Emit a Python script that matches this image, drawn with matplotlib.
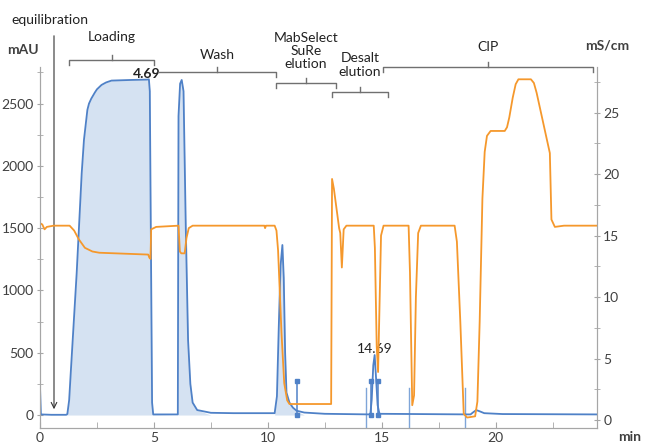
import matplotlib
matplotlib.use("Agg")
import matplotlib.pyplot as plt
from matplotlib.lines import Line2D
from matplotlib.ticker import MultipleLocator
import numpy as np

plt.rcParams['font.family'] = ['Lato', 'DejaVu Sans']

W, H = 645, 445
BLUE = "#4f81c7"
FILL = "#d5e2f2"
ORANGE = "#f5982c"
GRID = "#a6a6a6"
TXT = "#404040"

# UV absorbance trace (min, mAU)
uv_time = [0.00, 0.00, 0.04, 0.5, 1.15, 1.2, 1.28, 1.35, 1.61, 1.83, 1.93, 2.08, 2.15,
           2.25, 2.41, 2.5, 2.7, 2.9, 3.14, 4.0, 4.69, 4.78, 4.82, 4.92, 4.97, 6.05,
           6.08, 6.15, 6.22, 6.3, 6.4, 6.5, 6.6, 6.7, 6.9, 7.5, 8.5, 10.3, 10.4,
           10.48, 10.56, 10.64, 10.7, 10.76, 10.82, 10.95, 11.1, 11.26, 11.6, 12.5,
           14.5, 14.56, 14.63, 14.69, 14.75, 14.82, 14.9, 18.9, 19.0, 19.15, 19.3,
           19.5, 20.3, 24.5]
uv_mau = [-100, 225, 5, 2, 2, 8, 120, 340, 1140, 1940, 2210, 2450, 2500,
          2540, 2590, 2615, 2650, 2670, 2685, 2690, 2693, 2695, 2600, 100, 5, 5,
          2400, 2660, 2690, 2600, 1500, 600, 250, 100, 40, 18, 15, 15, 150,
          700, 1200, 1365, 1100, 500, 180, 100, 60, 35, 20, 10,
          5, 120, 400, 482, 300, 80, 10, 5, 20, 40, 30,
          15, 8, 5]

# conductivity trace (min, mS/cm)
cond_time = [0.0, 0.1, 0.2, 0.3, 0.6, 1.3, 1.5, 1.7, 1.97, 2.3, 2.6, 4.75, 4.8,
             4.85, 4.88, 5.1, 6.08, 6.14, 6.2, 6.35, 6.43, 6.53, 6.7, 9.85, 9.88,
             9.92, 10.3, 10.38, 10.45, 10.6, 10.72, 10.85, 10.95, 12.78, 12.82,
             12.9, 13.13, 13.18, 13.25, 13.33, 13.45, 14.65, 14.7, 14.78, 14.84,
             14.9, 14.97, 15.08, 16.18, 16.24, 16.34, 16.42, 16.5, 16.6, 16.72,
             18.2, 18.3, 18.45, 18.6, 18.75, 19.1, 19.2, 19.3, 19.42, 19.52, 19.62,
             19.78, 20.4, 20.5, 20.6, 20.75, 20.88, 21.0, 21.55, 21.68, 21.8, 22.38,
             22.45, 22.6, 23.0, 24.5]
cond_ms = [16.0, 15.9, 15.5, 15.7, 15.8, 15.8, 15.4, 14.7, 14.0, 13.7, 13.6, 13.45, 13.2,
           13.1, 15.5, 15.7, 15.8, 13.7, 13.55, 13.55, 14.8, 15.6, 15.8, 15.8, 15.6,
           15.8, 15.8, 15.4, 13.8, 7.1, 3.0, 1.6, 1.3, 1.3, 19.6,
           18.8, 15.6, 15.2, 12.4, 15.5, 15.8, 15.8, 14.0, 6.0, 3.9,
           9.0, 15.0, 15.8, 15.8, 12.0, 1.2, 2.0, 10.0, 15.2, 15.8,
           15.8, 14.5, 8.0, 0.5, 0.2, 0.3, 1.5, 8.0, 18.0, 21.8, 23.1,
           23.5, 23.5, 23.8, 24.6, 26.2, 27.3, 27.7, 27.7, 27.4, 26.6, 21.7,
           16.3, 15.7, 15.8, 15.8]

frac_time = [11.26, 14.55, 14.83]
frac_mau = 273
inject_time = [14.3, 16.2, 18.67]
inject_mau = 217
fill_ranges = [(1.1, 5.0), (6.0, 7.0), (10.3, 11.3)]
peak_marks = [4.69, 14.69]


def fpx(x, y):
    return x / W, 1 - y / H


fig = plt.figure(figsize=(W / 100, H / 100), dpi=100)
ax = fig.add_axes([40 / W, (H - 428) / H, (597 - 40) / W, (428 - 67) / H])
ax2 = ax.twinx()

t = np.array(uv_time)
a = np.array(uv_mau)
for lo, hi in fill_ranges:
    m = (t >= lo) & (t <= hi)
    ax.fill_between(t, 0, a, where=m, color=FILL, lw=0, interpolate=True)
ax.plot(t, a, color=BLUE, lw=1.3, zorder=3)

for ft in frac_time:
    ax.plot([ft, ft], [0, frac_mau], color=BLUE, lw=1.1, marker="s", ms=3.5, zorder=4)
for it in inject_time:
    ax.plot([it, it], [-100, inject_mau], color="#7fa5d8", lw=1.0, zorder=2)

for pk in peak_marks:
    ax.annotate(f"{pk:.2f}", (pk, np.interp(pk, t, a)), xytext=(0, 0),
                textcoords="offset points", ha="center", va="bottom",
                fontsize=10, color="#222222",
                weight="bold" if pk < 5 else "normal", zorder=5)

ax2.plot(cond_time, cond_ms, color=ORANGE, lw=1.3)

ax.set_xlim(0, 24.45)
ax.set_ylim(-104, 2794)
ax2.set_ylim(-0.65, 28.7)

ax.xaxis.set_major_locator(MultipleLocator(5))
ax.xaxis.set_minor_locator(MultipleLocator(2.5))
ax.yaxis.set_major_locator(MultipleLocator(500))
ax.yaxis.set_minor_locator(MultipleLocator(250))
ax2.yaxis.set_major_locator(MultipleLocator(5))
ax2.yaxis.set_minor_locator(MultipleLocator(2.5))

for a_ in (ax, ax2):
    a_.spines["top"].set_visible(False)
    for s in a_.spines.values():
        s.set_color(GRID)
    a_.tick_params(which="both", direction="inout", color=GRID, labelcolor=TXT,
                   labelsize=10, pad=2)
    a_.tick_params(which="major", length=5)
    a_.tick_params(which="minor", length=5)
ax.tick_params(axis="x", which="both", direction="in", length=4, pad=3)

# axis titles
fig.text(*fpx(23, 50), "mAU", ha="center", va="center", fontsize=10,
         weight="bold", color=TXT)
fig.text(*fpx(607, 45), "mS/cm", ha="center", va="center", fontsize=10,
         weight="bold", color=TXT)
fig.text(*fpx(630, 437), "min", ha="center", va="center", fontsize=10,
         weight="bold", color=TXT)

# equilibration arrow
fig.text(*fpx(50, 20), "equilibration", ha="center", va="center", fontsize=10,
         color="#222222")
ax.annotate("", xy=fpx(54, 412), xytext=fpx(54, 33), xycoords="figure fraction",
            textcoords="figure fraction",
            arrowprops=dict(arrowstyle="->", color="#333333", lw=0.8))


def bracket(x0, x1, y, label, ty, left_tick=True):
    cx = (x0 + x1) / 2
    pts = [(x0, y + 5), (x0, y), (x1, y), (x1, y + 5)]
    if not left_tick:
        pts = pts[1:]
    xs, ys = zip(*[fpx(px, py) for px, py in pts])
    fig.add_artist(Line2D(xs, ys, color="#707070", lw=1.0))
    xs, ys = zip(*[fpx(cx, y), fpx(cx, y - 5)])
    fig.add_artist(Line2D(xs, ys, color="#707070", lw=1.0))
    fig.text(*fpx(cx, ty), label, ha="center", va="center", fontsize=10,
             color="#222222", linespacing=1.15)


bracket(69, 154, 60, "Loading", 37)
bracket(158, 276, 72, "Wash", 55, left_tick=False)
bracket(276, 336, 83, "MabSelect\nSuRe\nelution", 51)
bracket(332, 388, 92, "Desalt\nelution", 65)
bracket(383, 593, 67, "CIP", 47)

fig.savefig("out.png", dpi=100)
